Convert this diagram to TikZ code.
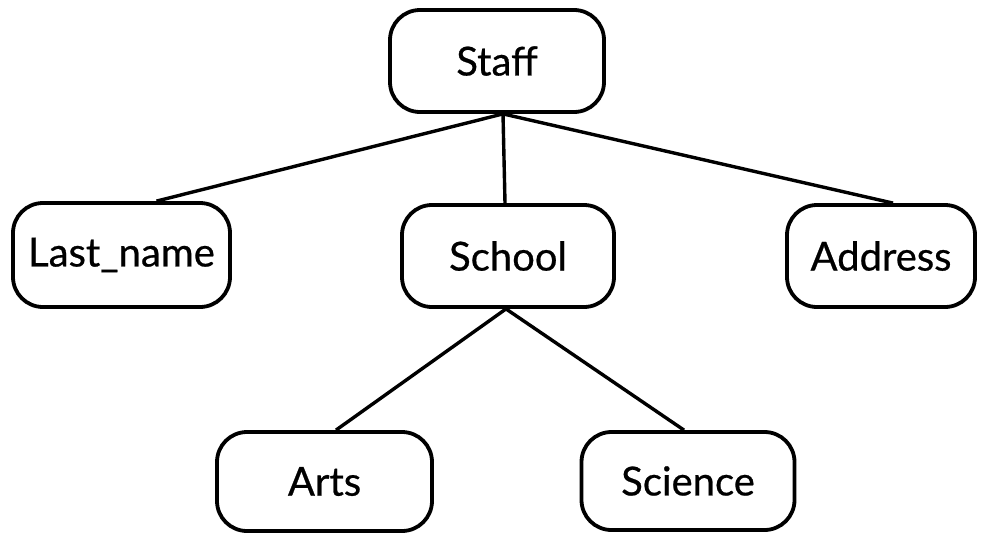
\documentclass[tikz,border=0pt]{standalone}
\usepackage{fontspec}
\setmainfont[FakeBold=0.6]{Lato}
\begin{document}
\begin{tikzpicture}[x=1pt,y=-1pt,
  box/.style={draw=black, line width=3.8pt, rounded corners=30pt, fill=white,
    inner sep=0pt, font=\fontsize{40}{48}\selectfont, text=black},
  link/.style={draw=black, line width=3.4pt}]
\useasboundingbox (0,0) rectangle (987,533);
\node[box, minimum width=214pt, minimum height=102pt] (staff) at (497,61) {Staff};
\node[box, minimum width=217pt, minimum height=104pt] (last) at (121.5,255) {\raisebox{-4pt}{Last\_name}};
\node[box, minimum width=212pt, minimum height=102pt] (school) at (508,256) {School};
\node[box, minimum width=188pt, minimum height=102pt] (addr) at (881,256) {Address};
\node[box, minimum width=215pt, minimum height=99pt] (arts) at (324.5,481.5) {Arts};
\node[box, minimum width=213pt, minimum height=98pt] (sci) at (688,481) {Science};
\draw[link] ([xshift=6pt]staff.south) -- ([xshift=35pt]last.north);
\draw[link] ([xshift=6pt]staff.south) -- ([xshift=-3pt]school.north);
\draw[link] ([xshift=6pt]staff.south) -- ([xshift=12pt]addr.north);
\draw[link] ([xshift=-2pt]school.south) -- ([xshift=11.5pt]arts.north);
\draw[link] ([xshift=-2pt]school.south) -- ([xshift=-4pt]sci.north);
\end{tikzpicture}
\end{document}
